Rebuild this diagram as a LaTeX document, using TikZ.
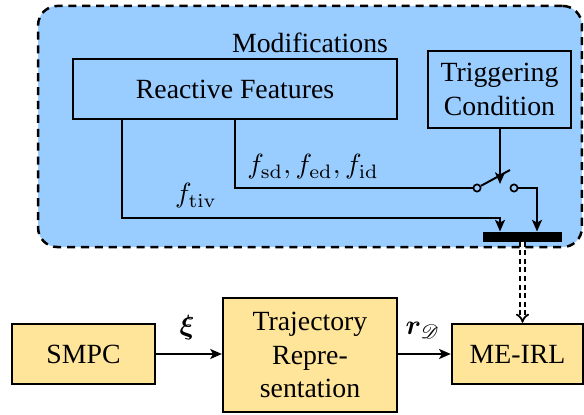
\documentclass[tikz,border=0pt]{standalone}
\usepackage[no-math]{fontspec}
\setmainfont{Liberation Serif}
\usepackage{amsmath,bm,mathrsfs}
\usetikzlibrary{arrows.meta}
\definecolor{modblue}{RGB}{153,204,255}
\definecolor{boxyellow}{RGB}{255,229,153}
\begin{document}
\begin{tikzpicture}[x=0.36pt, y=-0.36pt,
  blk/.style={draw, line width=0.85pt, align=center, inner sep=0pt},
  ybox/.style={blk, fill=boxyellow},
  bbox/.style={blk, fill=modblue},
  conn/.style={line width=0.7pt},
  arr/.style={conn, -{Stealth[length=4.2pt,width=3.6pt,inset=1pt]}},
  contact/.style={circle, draw, line width=0.6pt, fill=modblue, minimum size=2.6pt, inner sep=0pt},
  lbl/.style={inner sep=0pt}]
\useasboundingbox (0,0) rectangle (584,414);
% modifications container
\node[draw, dashed, dash pattern=on 2.9pt off 2.1pt, line width=0.9pt, fill=modblue,
      rounded corners=7pt, minimum width=195.8pt, minimum height=86.8pt, inner sep=0pt]
      (mod) at (310,126.5) {};
\node[lbl] (modlbl) at (310,43) {Modifications};
% blocks
\node[bbox, minimum width=116.6pt, minimum height=21.6pt] (RF) at (235,89) {Reactive Features};
\node[bbox, minimum width=51.5pt, minimum height=27.7pt] (TC) at (499.5,89.5) {Triggering\\Condition};
\node[draw, fill=black, minimum width=27.7pt, minimum height=3.2pt, inner sep=0pt] (bar) at (522.5,236.5) {};
\node[contact] (sw1) at (477,188) {};
\node[contact] (sw2) at (514,188) {};
\coordinate (bl) at (510,170);
\coordinate (c1) at (122,218);
\coordinate (c2) at (235,188);
\coordinate (in1) at (500,232);
\coordinate (in2) at (537,232);
\coordinate (tip) at (500,184);
% lower blocks
\node[ybox, minimum width=51.5pt, minimum height=21.6pt] (SMPC) at (83.5,354) {SMPC};
\node[ybox, minimum width=62.6pt, minimum height=41pt] (TR) at (310,355) {Trajectory\\Repre-\\sentation};
\node[ybox, minimum width=47.2pt, minimum height=21.6pt] (ME) at (517.5,354) {ME-IRL};
% connectors in the container
\draw[arr] (RF.south -| c1) -- (c1) -| (bar.north -| in1);
\draw[conn] (RF.south -| c2) |- (sw1);
\draw[conn] (sw1) -- (bl);
\draw[arr] (sw2) -| (bar.north -| in2);
\draw[arr] (TC.south -| tip) -- (tip);
\node[lbl] (fl) at (313,167) {$f_{\mathrm{sd}}, f_{\mathrm{ed}}, f_{\mathrm{id}}$};
\node[lbl] (ft) at (196,196) {$f_{\mathrm{tiv}}$};
% dashed double arrow
\draw[double, dash pattern=on 1.8pt off 1.3pt, line width=0.65pt, double distance=0.9pt, -{Implies[scale=1.15]}]
  (bar.south) -- (bar.south |- ME.north);
% lower connectors
\draw[arr] (SMPC) -- (TR.west |- SMPC);
\draw[arr] (TR.east |- ME) -- (ME);
\node[lbl] (xi) at (187,328) {$\bm{\xi}$};
\node[lbl] (rd) at (423,330) {$\bm{r}_{\mathscr{D}}$};
\end{tikzpicture}
\end{document}
